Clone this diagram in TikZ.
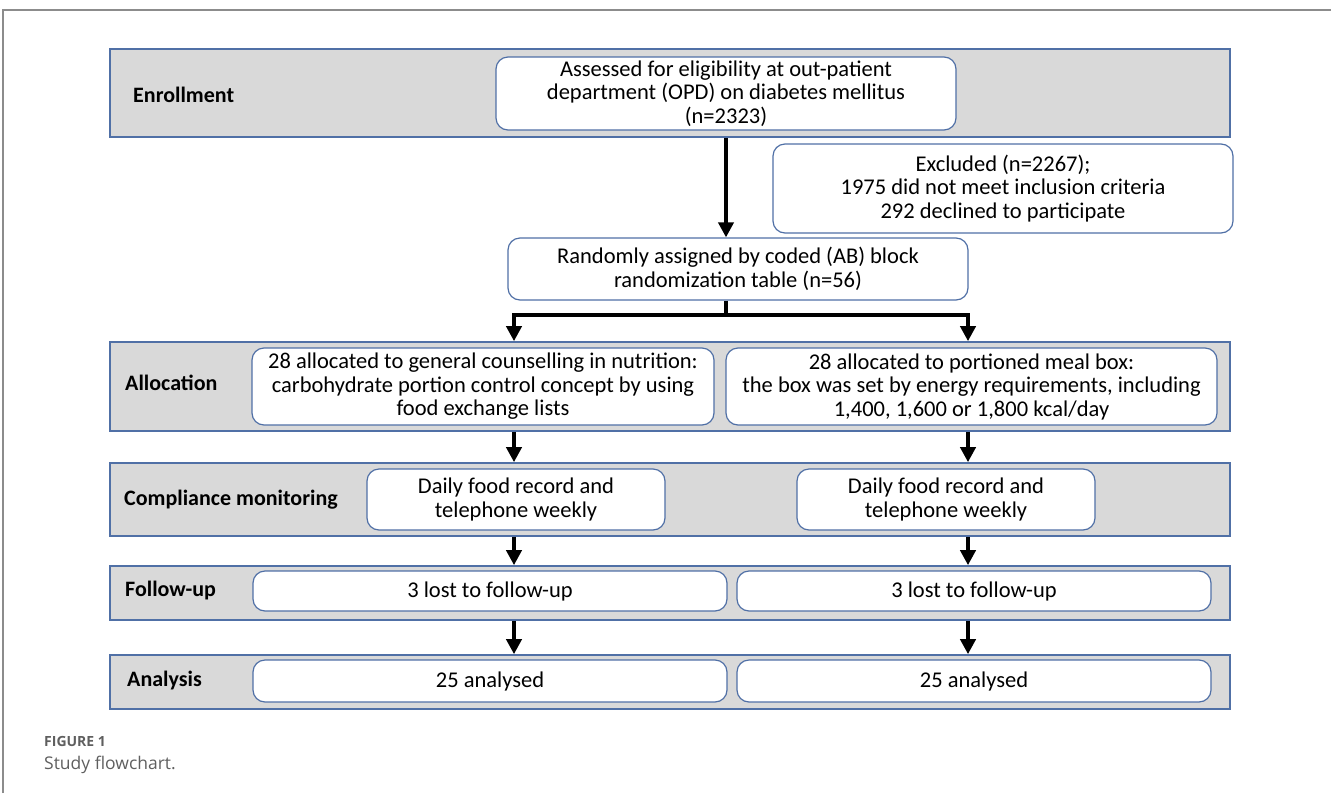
\documentclass[tikz,border=0pt]{standalone}
\usepackage{fontspec}
\setmainfont{Carlito}
\newfontfamily\capfont{Open Sans}
\usetikzlibrary{positioning, calc, arrows.meta}

\definecolor{bandgray}{RGB}{217,217,217}
\definecolor{edgeblue}{RGB}{80,112,166}
\definecolor{framegray}{RGB}{140,140,140}
\definecolor{capgray}{RGB}{95,95,95}

\tikzset{
  band/.style={draw=edgeblue, line width=1.6pt, fill=bandgray, minimum width=1120pt, inner sep=0pt},
  stage/.style={font=\fontsize{22}{26}\selectfont\bfseries, anchor=west, inner sep=0pt},
  infobox/.style={draw=edgeblue, line width=1.2pt, fill=white, rounded corners=12pt, align=center, font=\fontsize{22.5}{23.5}\selectfont, inner sep=0pt},
  arr/.style={line width=4pt, -{Triangle[width=15pt,length=15pt]}},
}

\begin{document}
\begin{tikzpicture}[x=1pt, y=-1pt]
\useasboundingbox (0,0) rectangle (1331,793);

\draw[framegray, line width=1.2pt] (3,793) -- (3,10) -- (1331,10);

% stage bands
\node[band, minimum height=88pt] (enroll) at (670,93) {};
\node[band, minimum height=89pt] (alloc) at (670,386.5) {};
\node[band, minimum height=73pt] (comp) at (670,499.5) {};
\node[band, minimum height=54pt] (follow) at (670,593) {};
\node[band, minimum height=54pt] (anal) at (670,682) {};

\node[stage] (enrollLbl) at (133,95) {Enrollment};
\node[stage] (allocLbl) at (125,383) {Allocation};
\node[stage] (compLbl) at (124,500) {Compliance monitoring};
\node[stage] (followLbl) at (125,591) {Follow-up};
\node[stage] (analLbl) at (127,681) {Analysis};

% boxes
\node[infobox, minimum width=460pt, minimum height=73pt] (assess) at (726,93.5) {Assessed for eligibility at out-patient\\department (OPD) on diabetes mellitus\\(n=2323)};
\node[infobox, minimum width=460pt, minimum height=89pt] (excl) at (1003,188.5) {Excluded (n=2267);\\1975 did not meet inclusion criteria\\292 declined to participate};
\node[infobox, minimum width=460pt, minimum height=62pt] (rand) at (738,269) {Randomly assigned by coded (AB) block\\randomization table (n=56)};

\node[infobox, minimum width=462pt, minimum height=77pt] (allocL) at (483,386.5) {28 allocated to general counselling in nutrition:\\carbohydrate portion control concept by using\\food exchange lists};
\node[infobox, minimum width=491pt, minimum height=77pt] (allocR) at (971.5,386.5) {28 allocated to portioned meal box:\\the box was set by energy requirements, including\\1,400, 1,600 or 1,800 kcal/day};

\node[infobox, minimum width=298pt, minimum height=61pt] (compL) at (516,499.5) {Daily food record and\\telephone weekly};
\node[infobox, minimum width=298pt, minimum height=61pt] (compR) at (946,499.5) {Daily food record and\\telephone weekly};

\node[infobox, minimum width=474pt, minimum height=40pt] (followL) at (490,591) {3 lost to follow-up};
\node[infobox, minimum width=474pt, minimum height=40pt] (followR) at (974,591) {3 lost to follow-up};

\node[infobox, minimum width=474pt, minimum height=42pt] (analL) at (490,681) {25 analysed};
\node[infobox, minimum width=474pt, minimum height=42pt] (analR) at (974,681) {25 analysed};

% arrows
\coordinate (colL) at (514,315);
\coordinate (colR) at (968,315);

\draw[arr] (assess.south |- enroll.south) -- (assess.south |- rand.north);
\draw[line width=4pt] (assess.south |- rand.south) -- (assess.south |- colL);
\draw[arr] (assess.south |- colL) -| (colL |- alloc.north);
\draw[arr] (assess.south |- colL) -| (colR |- alloc.north);

\foreach \c in {colL, colR} {
  \draw[arr] (\c |- alloc.south) -- (\c |- comp.north);
  \draw[arr] (\c |- comp.south) -- (\c |- follow.north);
  \draw[arr] (\c |- follow.south) -- (\c |- anal.north);
}

% caption
\node[anchor=west, font=\capfont\fontsize{14}{16}\selectfont\bfseries, text=capgray, inner sep=0pt] (figno) at (44,741) {FIGURE 1};
\node[anchor=west, font=\capfont\fontsize{17.5}{20}\selectfont, text=capgray, inner sep=0pt] (figcap) at (44,765) {Study flowchart.};

\end{tikzpicture}
\end{document}
